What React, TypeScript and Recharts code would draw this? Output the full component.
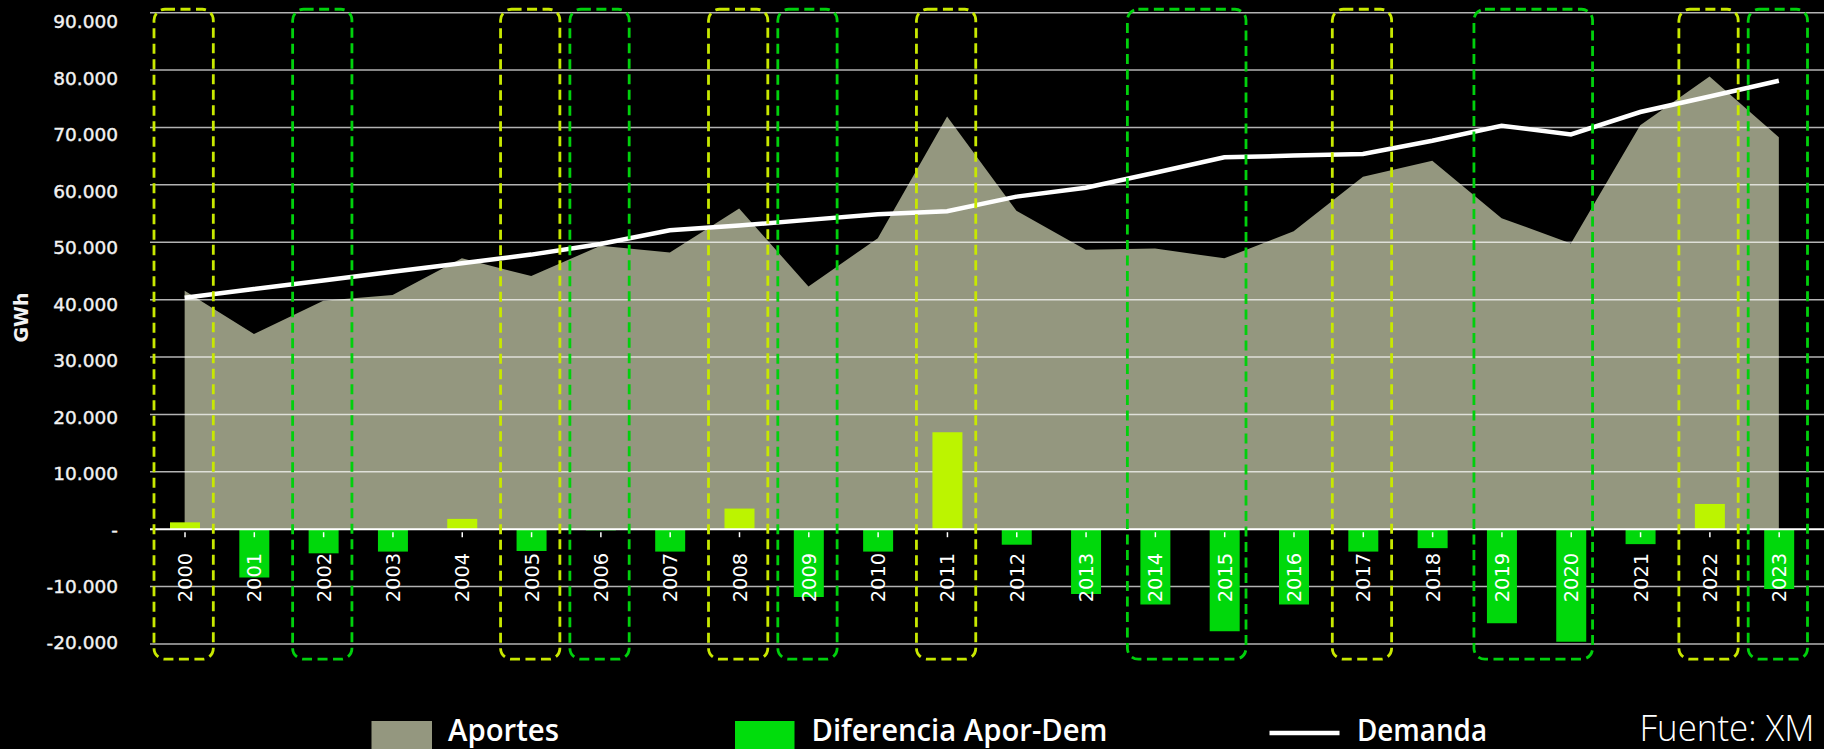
import React from 'react';
import { ComposedChart, Area, Bar, Line, Cell, XAxis, YAxis, ReferenceLine, ReferenceArea, LabelList } from 'recharts';

// yearly hydro inflows vs demand, GWh
const years = ['2000', '2001', '2002', '2003', '2004', '2005', '2006', '2007', '2008', '2009', '2010', '2011',
  '2012', '2013', '2014', '2015', '2016', '2017', '2018', '2019', '2020', '2021', '2022', '2023'];
const aportes = [41550, 34000, 39800, 40800, 47200, 44100, 49400, 48200, 55900, 42300, 50700, 71900,
  55500, 48700, 48900, 47200, 51900, 61400, 64200, 54200, 49800, 70400, 78900, 68300];
const demanda = [40350, 41850, 43350, 44850, 46350, 47850, 49700, 52100, 52900, 53900, 54900, 55400,
  57950, 59500, 62100, 64800, 65100, 65400, 67700, 70300, 68800, 72700, 75400, 78150];
const diferencia = [1200, -8400, -4200, -3900, 1800, -3800, -200, -3900, 3600, -11800, -3900, 16900,
  -2700, -11300, -13100, -17800, -13100, -3900, -3300, -16400, -19600, -2600, 4400, -10400];
const yTicks = [-20000, -10000, 0, 10000, 20000, 30000, 40000, 50000, 60000, 70000, 80000, 90000];

// highlighted periods [from, to]
const ninoPeriods = [['2000', '2000'], ['2005', '2005'], ['2008', '2008'], ['2011', '2011'], ['2017', '2017'], ['2022', '2022']];
const ninaPeriods = [['2002', '2002'], ['2006', '2006'], ['2009', '2009'], ['2014', '2015'], ['2019', '2020'], ['2023', '2023']];

const seriesNames = ['Aportes', 'Diferencia Apor-Dem', 'Demanda'];
const sourceText = 'Fuente: XM';

const data = years.map((year, i) => ({ year, aportes: aportes[i], demanda: demanda[i], dif: diferencia[i] }));

const AREA_COLOR = '#94977f';
const POS_COLOR = '#bcf400';
const NEG_COLOR = '#00d80b';
const NINO_COLOR = '#c8e800';
const NINA_COLOR = '#00d00c';

const fmt = (v: number) => {
  if (v === 0) return '-';
  const s = String(Math.abs(v)).replace(/\B(?=(\d{3})+(?!\d))/g, '.');
  return v < 0 ? '-' + s : s;
};

const YTick = (props: any) => {
  const { x, y, payload } = props;
  const v = payload.value;
  const shift = -1.3 + ((v + 20000) / 110000) * 10.3;
  return (
    <text x={x} y={y + shift} dy="0.36em" textAnchor="end" fill="#f2f2f2" stroke="#f2f2f2" strokeWidth={0.4}
      fontSize={18.5} fontFamily="DejaVu Sans">
      {fmt(v)}
    </text>
  );
};

// year label hanging under the zero line
const YearLabel = (props: any) => {
  const vb = props.viewBox && props.viewBox.width !== undefined ? props.viewBox : props;
  const { x, y, width, height } = vb;
  const v = diferencia[years.indexOf(String(props.value))] ?? 0;
  const cx = x + width / 2;
  const zero = v >= 0 ? Math.max(y, y + height) : Math.min(y, y + height);
  const ty = zero + 23.5;
  return (
    <g>
      <line x1={cx} x2={cx} y1={zero + 3} y2={zero + 8} stroke="#fff" strokeWidth={1.5} />
      <text x={cx} y={ty} transform={`rotate(-90 ${cx} ${ty})`} textAnchor="end" dy="0.36em"
        fill="#fff" fontSize={19.5} fontFamily="DejaVu Sans">
        {props.value}
      </text>
    </g>
  );
};

const makeBox = (color: string, span: number) => (props: any) => {
  const { x, y, width, height } = props;
  const inL = span > 1 ? 7 : 4;
  const inR = span > 1 ? 13 : 6;
  return (
    <rect x={x + inL} y={y} width={width - inL - inR} height={height} rx={11} ry={11}
      fill="none" stroke={color} strokeWidth={2.8} strokeDasharray="10 5.5" />
  );
};

const spanOf = (p: string[]) => years.indexOf(p[1]) - years.indexOf(p[0]) + 1;

export default function App() {
  return (
    <div style={{ position: 'relative', width: 1824, height: 749, background: '#000' }}>
      <style>{`body{margin:0;background:#000;}`}</style>
      <ComposedChart width={1824} height={749} data={data} margin={{ top: 12.7, right: 0, left: 0, bottom: 105 }}>
        <XAxis dataKey="year" hide padding={{ left: 0, right: 10.5 }} />
        <YAxis domain={[-20000, 90000]} ticks={yTicks} width={150} axisLine={false} tickLine={false}
          tickMargin={26} interval={0} tick={<YTick />} />
        <Area dataKey="aportes" type="linear" fill={AREA_COLOR} fillOpacity={1} stroke="none" isAnimationActive={false} />
        {yTicks.filter((t) => t !== 0).map((t) => (
          <ReferenceLine key={t} y={t} stroke="#ffffff" strokeOpacity={0.7} strokeWidth={1.5} zIndex={200} />
        ))}
        <Bar dataKey="dif" barSize={30} isAnimationActive={false}>
          {diferencia.map((v, i) => (
            <Cell key={i} fill={v >= 0 ? POS_COLOR : NEG_COLOR} />
          ))}
          <LabelList dataKey="year" content={<YearLabel />} />
        </Bar>
        <ReferenceLine y={0} stroke="#ffffff" strokeWidth={2} zIndex={350} />
        <Line dataKey="demanda" type="linear" stroke="#ffffff" strokeWidth={4.5} dot={false} isAnimationActive={false} />
        {ninoPeriods.map((p) => (
          <ReferenceArea key={'a' + p[0]} x1={p[0]} x2={p[1]} y1={-22650} y2={90600} ifOverflow="visible"
            shape={makeBox(NINO_COLOR, spanOf(p))} zIndex={600} />
        ))}
        {ninaPeriods.map((p) => (
          <ReferenceArea key={'b' + p[0]} x1={p[0]} x2={p[1]} y1={-22650} y2={90600} ifOverflow="visible"
            shape={makeBox(NINA_COLOR, spanOf(p))} zIndex={600} />
        ))}
      </ComposedChart>
      <svg width={1824} height={749} style={{ position: 'absolute', left: 0, top: 0, pointerEvents: 'none' }}>
        <text x={21} y={317.5} transform="rotate(-90 21 317.5)" textAnchor="middle" dy="0.36em"
          fill="#f2f2f2" fontSize={19} fontWeight="bold" fontFamily="DejaVu Sans">GWh</text>
        <rect x={371.5} y={721} width={60.5} height={32} fill={AREA_COLOR} />
        <text x={448} y={740.5} fill="#fff" fontSize={30} fontWeight={600} fontFamily="Open Sans"
          textLength={111} lengthAdjust="spacingAndGlyphs">{seriesNames[0]}</text>
        <rect x={735} y={721} width={59.5} height={32} fill="#00dd0c" />
        <text x={811.5} y={740.5} fill="#fff" fontSize={30} fontWeight={600} fontFamily="Open Sans"
          textLength={296} lengthAdjust="spacingAndGlyphs">{seriesNames[1]}</text>
        <line x1={1269.5} x2={1339.5} y1={733} y2={733} stroke="#fff" strokeWidth={4.5} />
        <text x={1357} y={740.5} fill="#fff" fontSize={30} fontWeight={600} fontFamily="Open Sans"
          textLength={130} lengthAdjust="spacingAndGlyphs">{seriesNames[2]}</text>
        <text x={1639.5} y={741} fill="#fff" fontSize={36} fontWeight={300} fontFamily="Open Sans"
          textLength={175} lengthAdjust="spacingAndGlyphs">{sourceText}</text>
      </svg>
    </div>
  );
}
